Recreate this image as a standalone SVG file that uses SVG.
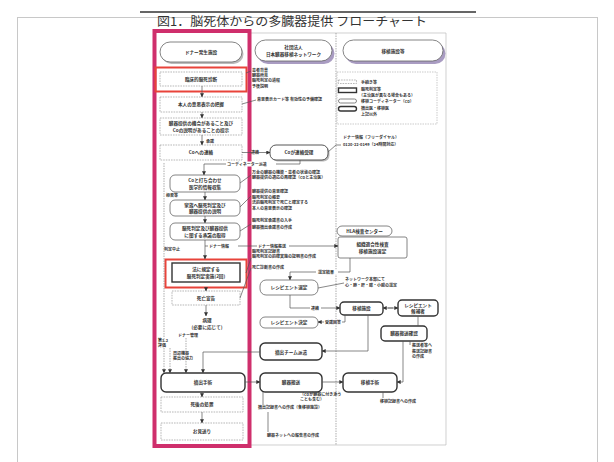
<svg xmlns="http://www.w3.org/2000/svg" width="614" height="462" viewBox="0 0 614 462">
<defs>
<marker id="ah" viewBox="0 0 6 6" refX="5.5" refY="3" markerWidth="4" markerHeight="4" markerUnits="userSpaceOnUse" orient="auto"><path d="M0,0 L6,3 L0,6z" fill="#333"/></marker>
<style>
.t{font-family:"Noto Sans CJK JP","Noto Sans",sans-serif;fill:#333}
.s{font-size:4px;font-weight:700}
.b{font-size:4.6px;font-weight:700;text-anchor:middle}
.thin{fill:#fff;stroke:#999;stroke-width:0.7;stroke-dasharray:1.6 1}
.co{fill:#fff;stroke:#666;stroke-width:0.8}
.bold{fill:#fff;stroke:#333;stroke-width:1.4}
.red{fill:none;stroke:#e8433a;stroke-width:2}
.sh{fill:#a99cc2}
.ln{fill:none;stroke:#555;stroke-width:0.7}
.dl{fill:none;stroke:#777;stroke-width:0.6;stroke-dasharray:1.5 1}
.wb{fill:#fff}
</style>
</defs>
<rect x="0" y="0" width="614" height="462" fill="#fff"/>
<rect x="17.5" y="17.5" width="580" height="446" fill="#fff" stroke="#c8c8c8"/>
<line x1="140" y1="12" x2="476" y2="12" stroke="#333" stroke-width="1.5"/>
<text class="t" x="157" y="26" font-size="12" fill="#555" textLength="270" lengthAdjust="spacingAndGlyphs">図1．脳死体からの多臓器提供 フローチャート</text>

<g id="frames">
<path d="M250,33 H446 V445 H250" fill="none" stroke="#bbb" stroke-width="0.7"/>
<line x1="336" y1="33" x2="336" y2="445" class="dl"/>
<rect x="154.5" y="31" width="95" height="415" fill="none" stroke="#cf2f6c" stroke-width="4"/>
</g>

<g id="legend">
<rect x="337" y="72" width="100" height="52" fill="#fff" stroke="#aaa" stroke-width="0.6" stroke-dasharray="1.5 1"/>
<rect x="338.5" y="80" width="18" height="3.5" class="thin"/>
<text class="t s" x="361" y="83.5">手続き等</text>
<rect x="338.5" y="88" width="18" height="4.5" class="bold"/>
<text class="t s" x="361" y="91">脳死判定等</text>
<text class="t s" x="359" y="96.5">（主治医が異なる場合もある）</text>
<rect x="338.5" y="99" width="18" height="4" rx="2" class="co"/>
<text class="t s" x="361" y="102.5">移植コーディネーター（Co）</text>
<rect x="338.5" y="106.5" width="18" height="4.5" rx="2.2" class="bold"/>
<text class="t s" x="361" y="110">摘出医・移植医</text>
<text class="t s" x="361" y="116">上記以外</text>
</g>

<g id="n-donor-facility">
<rect x="161.5" y="44" width="82" height="20" rx="10" fill="#bbb"/>
<rect x="160" y="42" width="82" height="20" rx="10" class="co"/>
<text class="t b" x="201" y="54">ドナー発生施設</text>
</g>
<g id="n-clinical">
<rect x="155.5" y="67.5" width="91" height="24" class="red"/>
<rect x="160" y="72" width="82" height="14" class="thin"/>
<text class="t b" x="201" y="80.5">臨床的脳死診断</text>
</g>
<g id="n-intent">
<rect x="160" y="97" width="82" height="15" class="thin"/>
<text class="t b" x="201" y="106">本人の意思表示の把握</text>
</g>
<g id="n-opportunity">
<rect x="160" y="118" width="82" height="17" class="thin"/>
<text class="t b" x="201" y="125" font-size="4.2">臓器提供の機会があること及び</text>
<text class="t b" x="201" y="131.5" font-size="4.2">Coの説明があることの提示</text>
</g>
<g id="n-co-contact">
<rect x="160" y="145" width="82" height="15" class="thin"/>
<text class="t b" x="201" y="154">Coへの連絡</text>
</g>
<g id="n-co-meeting">
<rect x="170" y="175" width="70" height="17" rx="5" class="co"/>
<text class="t b" x="205" y="182">Coと打ち合わせ</text>
<text class="t b" x="205" y="188.5">医学的情報収集</text>
</g>
<g id="n-family">
<rect x="170" y="200" width="70" height="16" rx="5" class="co"/>
<text class="t b" x="205" y="206.5">家族へ脳死判定及び</text>
<text class="t b" x="205" y="212.5">臓器提供の説明</text>
</g>
<g id="n-consent">
<rect x="170" y="223" width="70" height="17" rx="5" class="co"/>
<text class="t b" x="205" y="230">脳死判定及び臓器提供</text>
<text class="t b" x="205" y="236.5">に関する承諾の取得</text>
</g>
<g id="n-legal">
<rect x="165.5" y="259.5" width="81" height="28" class="red"/>
<rect x="172" y="263" width="68" height="19" class="bold"/>
<text class="t b" x="206" y="271">法に規定する</text>
<text class="t b" x="206" y="278">脳死判定実施(2回)</text>
</g>
<g id="n-death">
<rect x="172" y="291" width="68" height="14" class="thin"/>
<text class="t b" x="206" y="299.5">死亡宣告</text>
</g>
<g id="n-pathology">
<text class="t b" x="207" y="322">病理</text>
<text class="t b" x="207" y="328.5">(必要に応じて)</text>
</g>
<g id="n-extraction">
<rect x="161" y="373" width="84" height="19" rx="5" class="bold"/>
<text class="t b" x="203" y="384">摘出手術</text>
</g>
<g id="n-postmortem">
<rect x="161" y="397" width="82" height="15" class="thin"/>
<text class="t b" x="202" y="406">死後の処置</text>
</g>
<g id="n-farewell">
<rect x="161" y="423" width="82" height="17" class="thin"/>
<text class="t b" x="202" y="433">お見送り</text>
</g>

<g id="n-network">
<rect x="257.5" y="43" width="77" height="21" rx="10.5" class="sh"/>
<rect x="255" y="40" width="77" height="21" rx="10.5" class="co"/>
<text class="t b" x="293.5" y="49">社団法人</text>
<text class="t b" x="293.5" y="55.5">日本臓器移植ネットワーク</text>
</g>
<g id="n-facilities">
<rect x="345.5" y="43" width="100" height="21" rx="10.5" class="sh"/>
<rect x="343" y="40" width="100" height="21" rx="10.5" class="co"/>
<text class="t b" x="393" y="53">移植施設等</text>
</g>
<g id="n-co-receive">
<rect x="271.5" y="146.5" width="58" height="15" rx="6" fill="#bbb"/>
<rect x="270" y="145" width="58" height="15" rx="6" fill="#fff" stroke="#444" stroke-width="0.9"/>
<text class="t b" x="299" y="154">Coが連絡受理</text>
</g>
<g id="n-hla">
<rect x="337" y="226" width="55" height="10" rx="5" class="co"/>
<text class="t b" x="364.5" y="232.5">HLA検査センター</text>
</g>
<g id="n-matching">
<rect x="338" y="237" width="69" height="21" rx="2" class="co"/>
<text class="t b" x="372.5" y="246">組織適合性検査</text>
<text class="t b" x="372.5" y="252.5">移植施設選定</text>
</g>
<g id="n-recip-select">
<rect x="260" y="280" width="58" height="15" rx="6" class="co"/>
<text class="t b" x="289" y="289">レシピエント選定</text>
</g>
<g id="n-transplant-facility">
<rect x="340" y="302" width="43" height="13" rx="4" class="bold"/>
<text class="t b" x="361.5" y="310">移植施設</text>
</g>
<g id="n-candidate">
<rect x="398" y="300" width="40" height="16" rx="4" class="bold"/>
<text class="t b" x="418" y="306.5">レシピエント</text>
<text class="t b" x="418" y="312.5">候補者</text>
</g>
<g id="n-recip-decided">
<rect x="260" y="317" width="58" height="11" rx="5" class="co"/>
<text class="t b" x="289" y="324">レシピエント決定</text>
</g>
<g id="n-transport-check">
<rect x="381" y="326" width="46" height="15" rx="4" class="bold"/>
<text class="t b" x="404" y="335">臓器搬送確認</text>
</g>
<g id="n-team">
<rect x="260" y="343" width="62" height="17" rx="5" class="bold"/>
<text class="t b" x="291" y="353.5">摘出チーム派遣</text>
</g>
<g id="n-organ-transport">
<rect x="260" y="373" width="62" height="19" rx="5" class="bold"/>
<text class="t b" x="291" y="384">臓器搬送</text>
</g>
<g id="n-transplant-op">
<rect x="343" y="373" width="54" height="19" rx="5" class="bold"/>
<text class="t b" x="370" y="384">移植手術</text>
</g>

<g id="notes">
<text class="t s" x="252" y="72">患者背景</text>
<text class="t s" x="252" y="77">臓器所見</text>
<text class="t s" x="252" y="82">脳死判定の過程</text>
<text class="t s" x="252" y="87.5">予後説明</text>
<text class="t s" x="257" y="101">意思表示カード等 有効性の予備確認</text>
<text class="t s" x="251" y="153.5">連絡</text>
<text class="t s" x="343" y="139">ドナー情報（フリーダイヤル）</text>
<text class="t s" x="343" y="145.5">0120-22-0149（24時間対応）</text>
<text class="t s" x="252" y="174">万全の臓器の機能・患者の状態の確認</text>
<text class="t s" x="252" y="179">臓器提供の適応の再確認（Coと主治医）</text>
<text class="t s" x="252" y="193">臓器提供の意思確認</text>
<text class="t s" x="252" y="198.5">脳死判定の概要</text>
<text class="t s" x="252" y="204">法的脳死判定で死亡と確定する</text>
<text class="t s" x="252" y="209.5">本人の意思表示の確認</text>
<text class="t s" x="252" y="222">脳死判定承諾書の入手</text>
<text class="t s" x="252" y="229">臓器摘出承諾書の作成</text>
<text class="t s" x="252" y="253">脳死判定記録書</text>
<text class="t s" x="252" y="258">脳死判定の的確実施の証明書の作成</text>
<text class="t s" x="252" y="269">死亡診断書の作成</text>
<text class="t s" x="345" y="281">ネットワーク本部にて</text>
<text class="t s" x="345" y="287">心・肺・肝・膵・小腸の選定</text>
<text class="t s" x="412" y="347">搬送者等へ</text>
<text class="t s" x="412" y="352.5">搬送記録書</text>
<text class="t s" x="412" y="358">の作成</text>
<text class="t s" x="300" y="396">（Coが臓器に付き添う</text>
<text class="t s" x="300" y="401">ことも含む）</text>
<text class="t s" x="258" y="409">摘出記録書への作成（各移植施設）</text>
<text class="t s" x="380" y="403">移植記録書への作成</text>
<text class="t s" x="267" y="437">臓器ネットへの報告書の作成</text>
<text class="t s" x="206" y="142.5">承諾</text>
<text class="t s" x="166" y="196.5">拒否等</text>
<text class="t s" x="164" y="251">判定中止</text>
<text class="t s" x="158" y="342">第1.2</text>
<text class="t s" x="158" y="347">評価</text>
<text class="t s" x="178" y="337">ドナー管理</text>
<text class="t s" x="173" y="355">周辺機器</text>
<text class="t s" x="173" y="360">搬出の協力</text>
</g>

<g id="connectors">
<path d="M202,86 V97" class="ln" marker-end="url(#ah)"/>
<path d="M202,112 V118" class="ln" marker-end="url(#ah)"/>
<path d="M202,135 V145" class="ln" marker-end="url(#ah)"/>
<path d="M242,152.5 H270" class="ln" marker-end="url(#ah)"/>
<path d="M300,160 V164 H204 V175" class="ln" marker-end="url(#ah)"/>
<rect x="226" y="161.5" width="50" height="5" class="wb"/>
<text class="t s" x="227" y="165.5">コーディネーター派遣</text>
<path d="M205,192 V200" class="ln" marker-end="url(#ah)"/>
<path d="M205,216 V223" class="ln" marker-end="url(#ah)"/>
<path d="M205,240 V259" class="ln" marker-end="url(#ah)"/>
<path d="M205,246 H338" class="ln" marker-end="url(#ah)"/>
<rect x="208" y="243.5" width="30" height="5" class="wb"/>
<text class="t s" x="209" y="247.5">ドナー情報</text>
<rect x="257" y="243.5" width="32" height="5" class="wb"/>
<text class="t s" x="258" y="247.5">ドナー情報搬送</text>
<path d="M206,287.5 V291" class="ln" marker-end="url(#ah)"/>
<path d="M206,305 V316" class="ln" marker-end="url(#ah)"/>
<path d="M164,163 V373" class="dl" marker-end="url(#ah)"/>
<path d="M186,338 V351" class="dl"/>
<path d="M186,361 V373" class="dl" marker-end="url(#ah)"/>
<path d="M170,348 V373" class="dl" marker-end="url(#ah)"/>
<path d="M260,352 H203 V373" class="ln" marker-end="url(#ah)"/>
<path d="M202,392 V397" class="ln" marker-end="url(#ah)"/>
<path d="M202,412 V423" class="ln" marker-end="url(#ah)"/>
<path d="M245,382 H260" class="ln" marker-end="url(#ah)"/>
<path d="M322,382 H343" class="ln" marker-end="url(#ah)"/>
<path d="M246,73 L251,71" class="ln"/>
<path d="M242,104 L256,100" class="ln"/>
<path d="M328,152 L336,145 H341" class="ln"/>
<path d="M240,183 L251,175" class="ln"/>
<path d="M240,207 L251,196" class="ln"/>
<path d="M240,231 L251,224" class="ln"/>
<path d="M246,273 L251,258" class="ln"/>
<path d="M240,298 L251,268" class="ln"/>
<path d="M350,258 V272 H290 V280" class="ln" marker-end="url(#ah)"/>
<rect x="316" y="269.5" width="22" height="5" class="wb"/>
<text class="t s" x="318" y="273.5">選定結果</text>
<path d="M318,288 L344,283" class="ln"/>
<path d="M290,295 V308 H340" class="ln" marker-end="url(#ah)"/>
<rect x="310" y="305.5" width="11" height="5" class="wb"/>
<text class="t s" x="311" y="309.5">連絡</text>
<path d="M388,308 H398" class="ln" marker-end="url(#ah)"/>
<path d="M393,308 H383" class="ln" marker-end="url(#ah)"/>
<path d="M345,315 V322 H318" class="ln" marker-end="url(#ah)"/>
<rect x="324" y="319.5" width="18" height="5" class="wb"/>
<text class="t s" x="325" y="323.5">受諾回答</text>
<path d="M418,316 V326" class="ln"/>
<path d="M368,315 V351 H322" class="ln" marker-end="url(#ah)"/>
<path d="M403,341 V382 H397" class="ln" marker-end="url(#ah)"/>
<path d="M410,341 V345" class="ln"/>
<path d="M263,392 V405" class="ln"/>
<path d="M268,412 V432" class="ln"/>
<path d="M383,392 V398" class="ln"/>
<path d="M318,392 L312,393" class="ln"/>
</g>
</svg>
